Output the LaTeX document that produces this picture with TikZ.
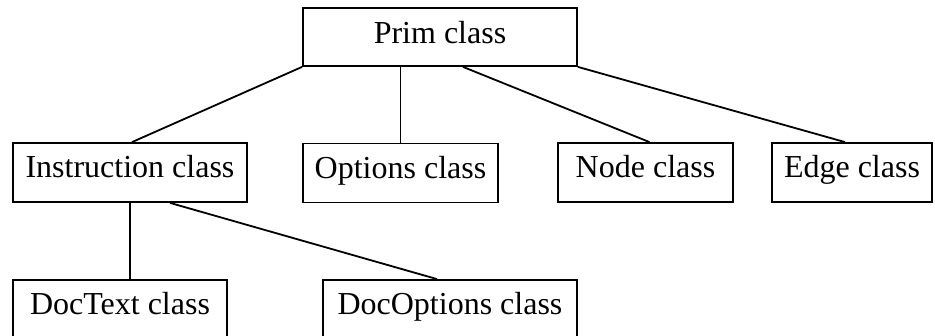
\documentclass[tikz,border=0pt]{standalone}
\usepackage{fontspec}
\setmainfont{Liberation Serif}
\begin{document}
\begin{tikzpicture}[x=1pt,y=-1pt,
  classbox/.style={draw, line width=1.8pt, rectangle, inner sep=0pt,
    text height=35pt, text depth=24pt, align=center,
    font=\fontsize{32}{38}\selectfont},
  link/.style={line width=1.8pt}]
\useasboundingbox (0,0) rectangle (935,336);
\clip (0,0) rectangle (935,336);

% top class
\node[classbox, minimum width=274pt, text height=36pt, text depth=22pt] (prim) at (440,37) {Prim class};

% second level
\node[classbox, minimum width=234pt] (instr) at (130,172.5) {Instruction class};
\node[classbox, minimum width=195pt] (opts) at (400.5,173) {Options class};
\node[classbox, minimum width=175pt] (nodec) at (645.5,172.5) {Node class};
\node[classbox, minimum width=160pt] (edge) at (852,172.5) {Edge class};

% third level
\node[classbox, minimum width=214pt] (doctext) at (120,309.5) {DocText class};
\node[classbox, minimum width=254pt] (docopt) at (450,309.5) {DocOptions class};

% connectors
\draw[link] (prim.south west) -- ([xshift=2pt]instr.north);
\draw[link] (opts.north |- prim.south) -- (opts.north);
\draw[link] ([xshift=23pt]prim.south) -- ([xshift=4pt]nodec.north);
\draw[link] (prim.south east) -- ([xshift=-7pt]edge.north);
\draw[link] (instr.south) -- (instr.south |- doctext.north);
\draw[link] ([xshift=40pt]instr.south) -- ([xshift=-13pt]docopt.north);
\end{tikzpicture}
\end{document}
